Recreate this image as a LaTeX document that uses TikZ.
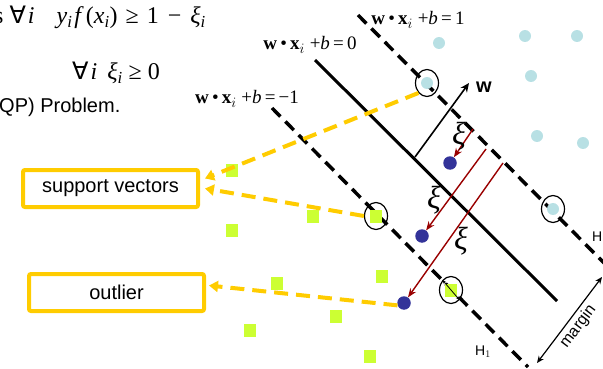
\documentclass[tikz,border=0pt]{standalone}
\usepackage{fontspec}
\setmainfont{Liberation Serif}
\setsansfont{Liberation Sans}
\newfontfamily\dvsans{DejaVu Sans}
\usetikzlibrary{arrows.meta,shapes.geometric}
\definecolor{svOrange}{RGB}{255,204,0}
\definecolor{ptGreen}{RGB}{204,255,51}
\definecolor{ptCyan}{RGB}{184,224,228}
\definecolor{ptBlue}{RGB}{51,51,153}
\definecolor{slackRed}{RGB}{153,0,0}
\tikzset{
  plus/.style={circle, fill=ptCyan, minimum size=12pt, inner sep=0pt},
  minus/.style={rectangle, fill=ptGreen, minimum width=12pt, minimum height=13pt,
                inner sep=0pt},
  outl/.style={circle, fill=ptBlue, minimum size=13.5pt, inner sep=0pt},
  ring/.style={ellipse, draw, line width=1.2pt, minimum width=23pt,
               minimum height=27pt, inner sep=0pt},
  callout/.style={rectangle, rounded corners=2pt, draw=svOrange, line width=4pt,
                  minimum width=175pt, minimum height=37pt,
                  font=\sffamily\fontsize{20}{24}\selectfont},
  pointer/.style={-{Triangle[length=9pt,width=11pt]}, draw=svOrange,
                  line width=4pt, dash pattern=on 14pt off 8pt},
  hplane/.style={draw, line width=3.5pt, dash pattern=on 12pt off 7pt},
  slack/.style={-{Stealth[length=9pt,width=7pt]}, draw=slackRed, line width=1.4pt},
  eqlbl/.style={font=\fontsize{19}{22}\selectfont, inner sep=0pt},
  cstlbl/.style={font=\fontsize{24}{28}\selectfont, inner sep=0pt, anchor=base west},
  xilbl/.style={font=\itshape\fontsize{32}{36}\selectfont, inner sep=0pt},
  sflbl/.style={font=\sffamily\fontsize{20}{24}\selectfont, inner sep=0pt},
}
\begin{document}
\begin{tikzpicture}[x=1pt,y=-1pt]
  \useasboundingbox (0,0) rectangle (603,369);

  % hyperplanes
  \coordinate (hmA) at (272,108); \coordinate (hmB) at (528,367);
  \coordinate (hoA) at (315,60);  \coordinate (hoB) at (557,301);
  \coordinate (hpA) at (358,15);  \coordinate (hpB) at (612,271);
  \draw[hplane] (hmA) -- (hmB);
  \draw[hplane] (hpA) -- (hpB);
  \draw[line width=3pt] (hoA) -- (hoB);

  % normal vector w
  \coordinate (wbase) at (415,157);
  \coordinate (wtip) at (469,83);
  \draw[-{Stealth[length=9pt,width=8pt]}, line width=1.6pt] (wbase) -- (wtip);
  \node[font=\sffamily\bfseries\fontsize{20}{24}\selectfont, inner sep=0pt]
       (wlbl) at (484,87) {w};

  % data points
  \foreach \x/\y [count=\k] in {439/43,525/36,577/36,531/76,537/136,583/143}
    \node[plus] (p\k) at (\x,\y) {};
  \foreach \x/\y [count=\k] in {232/170,313/216,232/230,277/283,382/276,
                               336/316,250/330,370/356}
    \node[minus] (m\k) at (\x,\y) {};
  \node[plus]  (sv1) at (427,83) {};
  \node[plus]  (sv4) at (553,209) {};
  \node[minus] (sv2) at (376,216) {};
  \node[minus] (sv3) at (451,290) {};
  \node[outl] (o1) at (450,163) {};
  \node[outl] (o2) at (422,236) {};
  \node[outl] (o3) at (404,303) {};

  \node[ring] (c1) at (sv1) {};
  \node[ring] (c2) at (sv2) {};
  \node[ring] (c3) at (sv3) {};
  \node[ring] (c4) at (sv4) {};
  \draw[{Stealth[length=4pt]}-{Stealth[length=4pt]}, line width=0.8pt]
       (c3.north west) -- (c3.south east);

  % slack variables
  \coordinate (s1) at (473,129);
  \coordinate (s2) at (486,149);
  \coordinate (s3) at (503,163);
  \draw[slack] (s1) -- (o1);
  \draw[slack] (s2) -- (o2);
  \draw[slack] (s3) -- (o3);
  \node[xilbl] (xi1) at (459,136) {ξ};
  \node[xilbl] (xi2) at (434,200) {ξ};
  \node[xilbl] (xi3) at (461,241) {ξ};

  % margin
  \coordinate (mA) at (537,363);
  \coordinate (mB) at (602,277);
  \draw[{Stealth[length=7pt,width=6pt]}-{Stealth[length=7pt,width=6pt]}, line width=1.2pt]
       (mA) -- node[sloped, below, font=\sffamily\fontsize{16}{19}\selectfont,
                    inner sep=3pt] (mlbl) {margin} (mB);
  \node[font=\sffamily\fontsize{14}{17}\selectfont, inner sep=0pt]
       (h1) at (483,352) {H$_1$};
  \node[font=\sffamily\fontsize{14}{17}\selectfont, inner sep=0pt, anchor=west]
       (h2) at (592,237) {H};

  % hyperplane equations
  \node[eqlbl] (eq0) at (310,45) {\textbf{w}\,•\,\textbf{x}$_i$ +\textit{b}\,=\,0};
  \node[eqlbl] (eqm) at (247,99) {\textbf{w}\,•\,\textbf{x}$_i$ +\textit{b}\,=\,−1};
  \node[eqlbl] (eqp) at (418,20) {\textbf{w}\,•\,\textbf{x}$_i$ +\textit{b}\,=\,1};

  % constraints (cut at the left edge)
  \node[cstlbl] (cst1) at (-6,24)
       {s\hspace{6pt}{\dvsans ∀}\hspace{2pt}\textit{i}\hspace{22pt}%
        \textit{y}\textsubscript{\textit{i}}\hspace{2pt}\textit{f}\hspace{2pt}%
        (\textit{x}\textsubscript{\textit{i}})\hspace{8pt}≥\hspace{8pt}1%
        \hspace{9pt}−\hspace{9pt}\textit{ξ}\textsubscript{\textit{i}}};
  \node[cstlbl] (cst2) at (72,80)
       {{\dvsans ∀}\hspace{2pt}\textit{i}\hspace{10pt}%
        \textit{ξ}\textsubscript{\textit{i}}\hspace{6pt}≥\hspace{6pt}0};
  \node[sflbl, anchor=base west] (qp) at (-1,113) {QP) Problem.};

  % call-outs
  \node[callout] (svbox) at (110.5,188.5) {support vectors};
  \node[callout] (olbox) at (116.5,292.5) {outlier};
  \draw[pointer] (c1.south west) -- ([shift={(5pt,10pt)}]svbox.east);
  \draw[pointer] (c2.west) -- ([xshift=5pt]svbox.east);
  \draw[pointer] (o3.200) -- ([shift={(3pt,7pt)}]olbox.east);
\end{tikzpicture}
\end{document}
